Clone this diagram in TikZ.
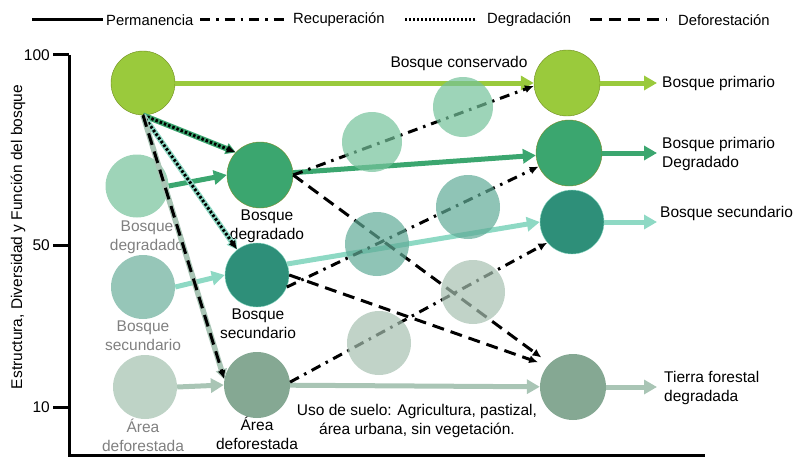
\documentclass[tikz,border=0pt]{standalone}
\usepackage{fontspec}
\setmainfont{Liberation Sans}
\usetikzlibrary{arrows.meta}
\definecolor{lgreen}{HTML}{9ACA3C}
\definecolor{lgreenb}{HTML}{6E8B1E}
\definecolor{mgreen}{HTML}{3BA66F}
\definecolor{mgreenb}{HTML}{7C8C2A}
\definecolor{dteal}{HTML}{2E8F79}
\definecolor{lteal}{HTML}{8ED9C4}
\definecolor{ggreen}{HTML}{85A893}
\definecolor{garrow}{HTML}{A9C5B5}
\definecolor{fdegc}{HTML}{9ED4B8}
\definecolor{fsecc}{HTML}{96C6B8}
\definecolor{fdefc}{HTML}{BED3C6}
\definecolor{mdegc}{HTML}{74C29A}
\definecolor{msecc}{HTML}{60AB97}
\definecolor{mdefc}{HTML}{A6C0B0}

\begin{document}
\begin{tikzpicture}[x=1pt,y=-1pt,
    txt/.style={font=\fontsize{15.5}{19}\selectfont,align=center,inner sep=0pt},
    lgd/.style={font=\fontsize{14.8}{17}\selectfont,anchor=west,inner sep=0pt},
    dim/.style={txt,text=black!50},
    circ/.style={circle,minimum size=#1,inner sep=0pt},
    flow/.style={draw=#1,line width=5pt,-{Triangle[length=13pt,width=14pt]}},
    under/.style={draw=#1,line width=5.5pt,-{Triangle[length=10pt,width=11pt]}},
    perm/.style={line width=3pt},
    recu/.style={line width=3pt,dash pattern=on 10pt off 6pt on 2.5pt off 6pt,-{Latex[length=9pt,width=8pt]}},
    degr/.style={line width=3pt,dash pattern=on 2.5pt off 2pt,-{Latex[length=9pt,width=8pt]}},
    defo/.style={line width=3pt,dash pattern=on 12pt off 7pt,-{Latex[length=9pt,width=8pt]}}]
  \useasboundingbox (0,0) rectangle (800,460);

  \coordinate (l1) at (32,20);
  \coordinate (l1b) at (103,20);
  \coordinate (l2) at (200,20);
  \coordinate (l2b) at (288,20);
  \coordinate (l3) at (405,20);
  \coordinate (l3b) at (475,20);
  \coordinate (l4) at (590,20);
  \coordinate (l4b) at (667,20);
  \draw[perm] (l1) -- (l1b);
  \draw[perm,dash pattern=on 10pt off 6pt on 2.5pt off 6pt] (l2) -- (l2b);
  \draw[line width=3pt,dash pattern=on 2pt off 2pt] (l3) -- (l3b);
  \draw[perm,dash pattern=on 12pt off 7pt] (l4) -- (l4b);
  \node[lgd] (lperm) at (106,20) {Permanencia};
  \node[lgd] (lrecu) at (293,20) {Recuperación};
  \node[lgd] (ldegr) at (487,20) {Degradación};
  \node[lgd] (ldefo) at (678,20) {Deforestación};

  \coordinate (ytop) at (69,55);
  \coordinate (orig) at (69,455);
  \coordinate (xend) at (705,455);
  \draw[line width=3pt] (ytop) -- (orig) -- (xend);
  \draw[line width=3pt] (53,55) -- (69,55);
  \draw[line width=3pt] (53,245) -- (69,245);
  \draw[line width=3pt] (53,407) -- (69,407);
  \node[txt,anchor=east] (t100) at (50,55) {100};
  \node[txt,anchor=east] (t50) at (50,245) {50};
  \node[txt,anchor=east] (t10) at (50,407) {10};
  \node[txt,rotate=90] (ylab) at (18,237) {Estructura, Diversidad y Función del bosque};

  \node[circ=63pt,fill=fdegc] (fdeg) at (137,186) {};
  \node[circ=64pt,fill=fsecc] (fsec) at (143,287) {};
  \node[circ=64pt,fill=fdefc] (fdef) at (145,387) {};
  \node[dim] (lfdeg) at (147,237) {Bosque\\degradado};
  \node[dim] (lfsec) at (143,336) {Bosque\\secundario};
  \node[dim] (lfdef) at (143,435) {Área\\deforestada};

  \node[circ=64pt,fill=lgreen,draw=lgreenb] (bp0) at (143,83) {};
  \node[circ=66pt,fill=mgreen,draw=mgreenb] (bdeg) at (260,175) {};
  \node[circ=64pt,fill=dteal,draw=lteal] (bsec) at (257,275) {};
  \node[circ=66pt,fill=ggreen] (adef) at (257,385) {};
  \node[txt] (lbdeg) at (267,226) {Bosque\\degradado};
  \node[txt] (lbsec) at (258,324) {Bosque\\secundario};
  \node[txt] (ladef) at (257,433) {Área\\deforestada};

  \node[circ=66pt,fill=lgreen,draw=lgreenb] (bprim) at (567,83) {};
  \node[circ=66pt,fill=mgreen,draw=mgreenb] (bpdeg) at (569,153) {};
  \node[circ=64pt,fill=dteal,draw=lteal] (bsec2) at (572,222) {};
  \node[circ=66pt,fill=ggreen] (tfd) at (573,387) {};
  \coordinate (o1) at (657,83);
  \coordinate (o2) at (657,153);
  \coordinate (o3) at (657,222);
  \coordinate (o4) at (657,387);
  \node[txt,anchor=west] (lbprim) at (662,83) {Bosque primario};
  \node[txt,anchor=west,align=left] (lbpdeg) at (662,154) {Bosque primario\\Degradado};
  \node[txt,anchor=west] (lbsec2) at (660,213) {Bosque secundario};
  \node[txt,anchor=west,align=left] (ltfd) at (664,388) {Tierra forestal\\degradada};
  \node[txt] (lcons) at (459,63) {Bosque conservado};
  \node[txt] (luso) at (417,421) {Uso de suelo: Agricultura, pastizal,\\área urbana, sin vegetación.};

  \draw[flow=lgreen] (bp0) -- (bprim);
  \draw[flow=mgreen] (fdeg.east) -- (bdeg.west);
  \draw[flow=mgreen] (bdeg) -- (bpdeg);
  \draw[flow=lteal] (fsec.east) -- (bsec.west);
  \draw[flow=lteal] (bsec.20) -- (bsec2.west);
  \draw[flow=garrow] (fdef.east) -- (adef.west);
  \draw[flow=garrow] (adef) -- (tfd);
  \draw[flow=lgreen] (bprim) -- (o1);
  \draw[flow=mgreen] (bpdeg) -- (o2);
  \draw[flow=lteal] (bsec2) -- (o3);
  \draw[flow=garrow] (tfd) -- (o4);

  \draw[under=mgreen] (bp0.south) -- (bdeg.137);
  \draw[degr] (bp0.south) -- (bdeg.137);
  \draw[under=lteal] (bp0.south) -- (bsec.128);
  \draw[degr] (bp0.south) -- (bsec.128);
  \draw[under=garrow] (bp0.south) -- (adef.170);
  \draw[defo] (bp0.south) -- (adef.170);

  \draw[recu] (bdeg.east) -- (bprim.185);
  \draw[recu] (bsec.-22) -- (bpdeg.204);
  \draw[recu] (adef.5) -- (bsec2.220);
  \draw[defo,shorten >=10pt] (bdeg.east) -- (tfd.135);
  \draw[defo,shorten >=10pt] (bsec.east) -- (tfd.140);

  \node[circ=60pt,fill=mdegc,fill opacity=.7] (m1) at (372,142) {};
  \node[circ=60pt,fill=mdegc,fill opacity=.7] (m2) at (463,107) {};
  \node[circ=64pt,fill=msecc,fill opacity=.7] (m3) at (377,244) {};
  \node[circ=64pt,fill=msecc,fill opacity=.7] (m4) at (468,207) {};
  \node[circ=64pt,fill=mdefc,fill opacity=.7] (m5) at (473,292) {};
  \node[circ=64pt,fill=mdefc,fill opacity=.7] (m6) at (379,343) {};
\end{tikzpicture}
\end{document}
